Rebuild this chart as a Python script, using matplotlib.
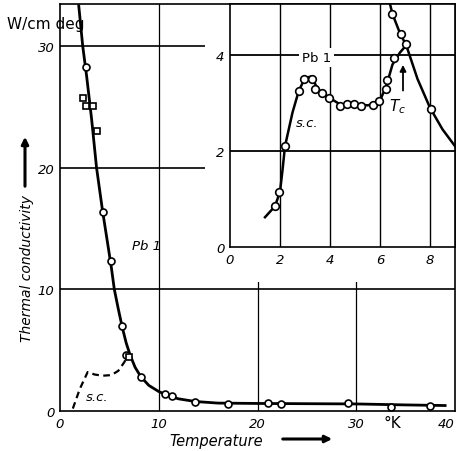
import numpy as np
import matplotlib
matplotlib.use('Agg')
import matplotlib.pyplot as plt
from matplotlib.patches import Rectangle

# main plot, Pb 1 thermal conductivity (W/cm deg) vs temperature (K)
main_circ_t = [2.63, 4.35, 5.16, 6.28, 6.68, 8.2, 10.6, 11.3, 13.7, 17.0, 21.1, 22.4, 29.2, 33.5, 37.5]
main_circ_k = [28.3, 16.35, 12.3, 7.0, 4.6, 2.8, 1.4, 1.2, 0.75, 0.6, 0.65, 0.6, 0.65, 0.35, 0.4]
main_sq_t = [2.33, 2.63, 3.34, 3.75, 6.99]
main_sq_k = [25.7, 25.1, 25.1, 23.0, 4.4]

curve_t = [1.9, 2.3, 2.7, 3.2, 3.7, 4.3, 4.8, 5.2, 5.5, 5.9, 6.3, 6.7, 7.1, 7.6, 8.2, 9.0,
           10.0, 11.0, 12.0, 13.7, 16.0, 20.0, 25.0, 30.0, 35.0, 39.0]
curve_k = [33.3, 30.0, 27.5, 24.0, 20.0, 16.5, 13.9, 11.8, 10.0, 8.4, 6.9, 5.6, 4.6, 3.6, 2.8, 2.1,
           1.6, 1.25, 1.0, 0.78, 0.65, 0.62, 0.6, 0.58, 0.5, 0.45]

sc_t = [1.3, 2.0, 2.8, 3.5, 4.3, 5.2, 5.9, 6.5, 6.9]
sc_k = [0.2, 1.8, 3.2, 3.0, 2.9, 2.95, 3.3, 4.0, 4.6]

# inset, low temperature detail
ins_t = [1.8, 1.96, 2.2, 2.75, 2.97, 3.27, 3.4, 3.67, 3.96, 4.4, 4.67, 4.96, 5.23, 5.73, 5.97,
         6.23, 6.27, 6.57, 6.5, 6.83, 7.03, 8.03]
ins_k = [0.85, 1.15, 2.1, 3.25, 3.5, 3.5, 3.3, 3.2, 3.1, 2.93, 2.98, 2.98, 2.93, 2.95, 3.03,
         3.3, 3.47, 3.93, 4.85, 4.43, 4.23, 2.88]

ins_sc_t = [1.4, 1.8, 2.0, 2.1, 2.2, 2.5, 2.75, 3.0, 3.25, 3.5, 3.7, 4.0, 4.4, 5.0, 5.5, 5.8,
            6.0, 6.25, 6.5, 6.8, 7.05]
ins_sc_k = [0.62, 0.85, 1.15, 1.6, 2.1, 2.8, 3.25, 3.52, 3.55, 3.3, 3.2, 3.1, 2.97, 2.97, 2.95,
            2.98, 3.05, 3.35, 3.8, 4.05, 4.2]
ins_n_t = [6.4, 6.5, 6.8, 7.05, 7.5, 8.0, 8.5, 9.0]
ins_n_k = [5.06, 4.85, 4.45, 4.2, 3.5, 2.9, 2.45, 2.1]

main_ticks = [0, 10, 20, 30]
main_xticks = [0, 10, 20, 30, 40]
ins_xticks = [0, 2, 4, 6, 8]
ins_yticks = [0, 2, 4]

W, H = 460, 452
fig = plt.figure(figsize=(W / 100, H / 100), dpi=100)
fig.patch.set_facecolor('white')

ital = dict(style='italic', fontsize=9.5)

ax = fig.add_axes([60 / W, 1 - 412 / H, 395 / W, 407 / H])
ax.set_xlim(0, 40)
ax.set_ylim(0, 33.45)
for v in [10, 20, 30]:
    ax.axvline(v, color='black', lw=0.9, zorder=1)
for v in [10, 20, 30]:
    ax.axhline(v, color='black', lw=1.2, zorder=1)
# inset background hides the main grid
ax.add_patch(Rectangle((14.7, 10.6), 26, 25, facecolor='white', edgecolor='none', zorder=1.5))

ax.plot(curve_t, curve_k, color='black', lw=2.0, zorder=3)
ax.plot(sc_t, sc_k, color='black', lw=1.6, ls=(0, (3, 2)), zorder=3)
ax.plot(main_circ_t, main_circ_k, 'o', ms=5, mfc='white', mec='black', mew=1.2, zorder=4)
ax.plot(main_sq_t, main_sq_k, 's', ms=5, mfc='white', mec='black', mew=1.2, zorder=4)
ax.text(7.3, 13.6, 'Pb 1', fontsize=9.5, ha='left', va='center', style='italic')
ax.text(3.75, 1.2, 's.c.', ha='center', va='center', **ital)

ax.set_xticks(main_xticks)
ax.set_xticklabels([str(t) for t in main_xticks], **ital)
ax.get_xticklabels()[-1].set_horizontalalignment('right')
ax.set_yticks(main_ticks)
ax.set_yticklabels([str(t) for t in main_ticks], **ital)
ax.tick_params(length=0, pad=4)
for s in ax.spines.values():
    s.set_linewidth(1.2)

# inset
ins = fig.add_axes([230 / W, 1 - 248 / H, 225 / W, 243 / H])
ins.set_facecolor('white')
ins.set_xlim(0, 9.0)
ins.set_ylim(0, 5.06)
for v in [2, 4, 6, 8]:
    ins.axvline(v, color='black', lw=1.0, zorder=1)
for v in [2, 4]:
    ins.axhline(v, color='black', lw=1.3, zorder=1)
ins.plot(ins_sc_t, ins_sc_k, color='black', lw=1.8, zorder=3)
ins.plot(ins_n_t, ins_n_k, color='black', lw=1.8, zorder=3)
ins.plot(ins_t, ins_k, 'o', ms=5.5, mfc='white', mec='black', mew=1.2, zorder=4)
ins.text(3.45, 3.95, 'Pb 1', fontsize=9.5, ha='center', va='center',
         bbox=dict(facecolor='white', edgecolor='none', pad=2), zorder=2)
ins.text(3.1, 2.6, 's.c.', ha='center', va='center', **ital)
ins.text(6.7, 2.95, '$T_c$', fontsize=11, ha='center', va='center')
ins.annotate('', xy=(6.92, 3.85), xytext=(6.92, 3.2),
             arrowprops=dict(arrowstyle='-|>', color='black', lw=1.3, mutation_scale=9))
ins.set_xticks(ins_xticks)
ins.set_xticklabels([str(t) for t in ins_xticks], **ital)
ins.set_yticks(ins_yticks)
ins.set_yticklabels([str(t) for t in ins_yticks], **ital)
ins.tick_params(length=0, pad=4)
for s in ins.spines.values():
    s.set_linewidth(1.2)

# labels and arrows
fig.text(46 / W, 1 - 25 / H, 'W/cm deg', fontsize=11, ha='center', va='center')
fig.text(27 / W, 1 - 268 / H, 'Thermal conductivity', rotation=90, ha='center', va='center',
         style='italic', fontsize=10)
fig.text(216 / W, 1 - 442 / H, 'Temperature', ha='center', va='center', style='italic', fontsize=10.5)
fig.text(392 / W, 1 - 424 / H, '°K', ha='center', va='center', fontsize=11)
ax.annotate('', xy=(25, H - 135), xytext=(25, H - 190), xycoords='figure pixels',
            textcoords='figure pixels',
            arrowprops=dict(arrowstyle='-|>', color='black', lw=2.2, mutation_scale=10))
ax.annotate('', xy=(335, H - 440), xytext=(280, H - 440), xycoords='figure pixels',
            textcoords='figure pixels',
            arrowprops=dict(arrowstyle='-|>', color='black', lw=2.2, mutation_scale=10))

fig.savefig('out.png', dpi=100)
